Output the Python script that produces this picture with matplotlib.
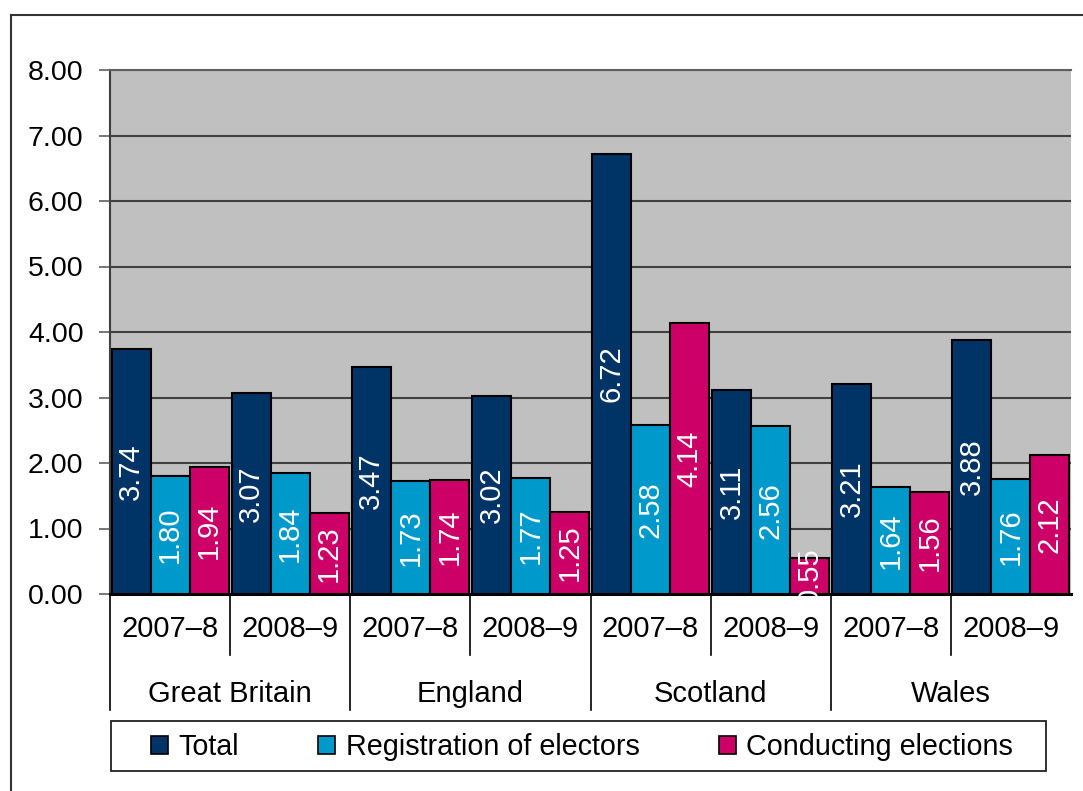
import numpy as np
import matplotlib
matplotlib.use("Agg")
import matplotlib.pyplot as plt
from matplotlib.patches import Patch, Rectangle
from matplotlib.lines import Line2D
from matplotlib.transforms import blended_transform_factory

plt.rcParams['font.family'] = ['Liberation Sans', 'DejaVu Sans']

# data
countries = ["Great Britain", "England", "Scotland", "Wales"]
years = ["2007\u20138", "2008\u20139"]
total = [3.74, 3.07, 3.47, 3.02, 6.72, 3.11, 3.21, 3.88]
registration = [1.80, 1.84, 1.73, 1.77, 2.58, 2.56, 1.64, 1.76]
conducting = [1.94, 1.23, 1.74, 1.25, 4.14, 0.55, 1.56, 2.12]

series = [("Total", total, "#003366"),
          ("Registration of electors", registration, "#0099CC"),
          ("Conducting elections", conducting, "#CC0066")]

W, H = 1083, 791
fig = plt.figure(figsize=(W / 100, H / 100), dpi=100)
ax = fig.add_axes([110 / W, 1 - 594 / H, (1071 - 110) / W, (594 - 70) / H])
ax.set_facecolor("#C0C0C0")

n = len(total)
x = np.arange(n)
bw = 0.325
for i, (name, vals, col) in enumerate(series):
    xs = x + (i - 1) * bw
    ax.bar(xs, vals, width=bw, color=col, edgecolor="black", linewidth=1.5, zorder=3)
    for xi, v in zip(xs, vals):
        ax.text(xi, v / 2, f"{v:.2f}", rotation=90, ha="center", va="center",
                color="white", fontsize=21, zorder=4)

ax.set_xlim(-0.5, n - 0.5)
ax.set_ylim(0, 8)
ax.set_yticks(np.arange(0, 9, 1))
ax.set_yticklabels([f"{v:.2f}" for v in np.arange(0, 9, 1)], fontsize=20.5)
ax.tick_params(axis="y", length=8, width=1.2, color="#606060", pad=11)
ax.set_xticks([])
ax.yaxis.grid(True, color="#404040", linewidth=1.5, zorder=1)
ax.set_axisbelow(True)
ax.spines["right"].set_visible(False)
ax.spines["top"].set_color("#606060")
ax.spines["top"].set_linewidth(1.5)
ax.spines["left"].set_color("#404040")
ax.spines["left"].set_linewidth(1.5)
ax.spines["bottom"].set_linewidth(2.2)

# two-level category axis
tr = blended_transform_factory(ax.transData, ax.transAxes)
for i in range(n):
    ax.text(x[i], -0.066, years[i % 2], ha="center", va="center", fontsize=21, transform=tr)
    if i % 2 == 1:
        ax.plot([i - 0.5, i - 0.5], [0, -0.116], color="black", lw=1.2,
                transform=tr, clip_on=False)
for j, c in enumerate(countries):
    ax.text(2 * j + 0.5, -0.19, c, ha="center", va="center", fontsize=21, transform=tr)
    ax.plot([2 * j - 0.5, 2 * j - 0.5], [0, -0.221], color="black", lw=1.2,
            transform=tr, clip_on=False)

# outer chart frame
fig.add_artist(Line2D([11 / W, 1], [1 - 15 / H, 1 - 15 / H], color="#333333", lw=1.5))
fig.add_artist(Line2D([11 / W, 11 / W], [0, 1 - 15 / H], color="#333333", lw=1.5))

# legend box and entries
fig.add_artist(Rectangle((111 / W, 1 - 771 / H), (1046 - 111) / W, 50 / H,
                         transform=fig.transFigure, facecolor="white",
                         edgecolor="#222222", linewidth=1.3))
handles = [Patch(facecolor=col, edgecolor="black", linewidth=1.2, label=name)
           for name, vals, col in series]
leg = fig.legend(handles=handles, loc="center", bbox_to_anchor=(582 / W, 1 - 747 / H),
                 ncol=3, fontsize=20.7, frameon=False,
                 handlelength=0.6, handleheight=0.6,
                 handletextpad=0.36, columnspacing=2.75, borderpad=0,
                 borderaxespad=0)

fig.savefig("out.png", dpi=100)
